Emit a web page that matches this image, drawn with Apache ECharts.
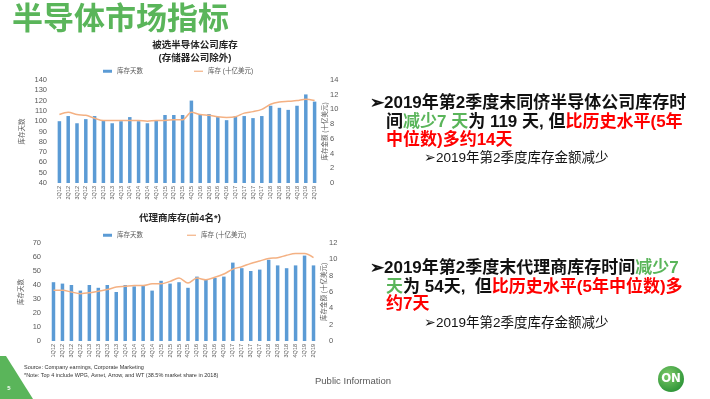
<!DOCTYPE html>
<html>
<head>
<meta charset="utf-8">
<script src="https://cdn.jsdelivr.net/npm/echarts@6/dist/echarts.min.js"></script>
<style>
  html, body { margin: 0; padding: 0; background: #fff; }
  #slide { width: 710px; height: 399px; }
</style>
</head>
<body>
<div id="slide"></div>
<script>
// 季度
var quarters = ['1Q12','2Q12','3Q12','4Q12','1Q13','2Q13','3Q13','4Q13','1Q14','2Q14','3Q14','4Q14',
    '1Q15','2Q15','3Q15','4Q15','1Q16','2Q16','3Q16','4Q16','1Q17','2Q17','3Q17','4Q17',
    '1Q18','2Q18','3Q18','4Q18','1Q19','2Q19'];

// 被选半导体公司库存
var semiDays = [100,105,98,102,105,101,98,100,104,100,98,101,106,106,106,120,107,107,104,101,105,105,103,105,115,113,111,115,126,119];
var semiValue = [9.3,9.6,9.3,9.2,8.8,8.5,8.5,8.5,8.5,8.5,8.4,8.5,8.5,8.6,8.6,9.6,9.3,9.2,9.0,8.9,9.0,9.5,9.7,10.0,10.7,11.0,11.1,11.2,11.4,11.2];

// 代理商库存(前4名)
var distDays = [42,41,40,36,40,38,40,35,40,39,40,36,43,41,42,38,46,44,45,46,56,52,50,51,58,54,52,54,61,54];
var distValue = [6.2,6.2,6.0,5.8,5.9,6.1,6.3,6.6,6.7,6.8,6.8,7.0,7.0,7.3,7.7,7.1,7.7,7.5,7.8,8.2,8.8,9.1,9.5,9.8,10.1,10.2,10.5,10.7,10.7,10.2];

var daysName = '库存天数';
var valueName = '库存 (十亿美元)';
var valueAxisName = '库存金额 (十亿美元)';

var FONT = '"Liberation Sans","Noto Sans CJK SC",sans-serif';
var BLUE = '#5B9BD5';
var ORANGE = '#F4B183';
var GREEN = '#5AB55A';

var chart = echarts.init(document.getElementById('slide'));

function xAx(gi) {
    return {
        type: 'category', gridIndex: gi, data: quarters,
        axisLine: {show: false}, axisTick: {show: false},
        axisLabel: {interval: 0, rotate: 90, fontSize: 5.5, color: '#595959', margin: 3, fontFamily: FONT}
    };
}
function yAx(gi, min, max, step, name, right, gap) {
    return {
        type: 'value', gridIndex: gi, min: min, max: max, interval: step,
        position: right ? 'right' : 'left',
        name: name, nameLocation: 'middle', nameRotate: 90,
        nameGap: gap, nameMoveOverlap: false,
        nameTextStyle: {fontSize: 6.5, color: '#595959', fontFamily: FONT},
        splitLine: {show: false}, axisLine: {show: false}, axisTick: {show: false},
        axisLabel: {fontSize: 7.5, color: '#595959', margin: right ? 11 : 8, fontFamily: FONT}
    };
}
function legendAt(left, top, name, h) {
    return {
        left: left, top: top, data: [{name: name, icon: 'rect'}],
        itemWidth: 9, itemHeight: h, itemGap: 4,
        textStyle: {fontSize: 6.5, color: '#595959', fontFamily: FONT}
    };
}
function bulletLine(x, y, parts, size, weight) {
    return {
        type: 'text', x: x, y: y,
        style: {
            text: parts, fill: '#000', verticalAlign: 'middle',
            font: weight + ' ' + size + 'px ' + FONT,
            rich: {
                k: {fill: '#111', fontSize: size, fontWeight: weight, fontFamily: FONT},
                g: {fill: GREEN, fontSize: size, fontWeight: weight, fontFamily: FONT},
                r: {fill: '#FF0000', fontSize: size, fontWeight: weight, fontFamily: FONT}
            }
        }
    };
}

option = {
    backgroundColor: '#fff',
    animation: false,
    title: [{
        text: '被选半导体公司库存\n(存储器公司除外)', left: 190, top: 34, textAlign: 'center',
        textStyle: {fontSize: 9.5, fontWeight: 'bold', color: '#262626', lineHeight: 13, fontFamily: FONT}
    }, {
        text: '代理商库存(前4名*)', left: 175, top: 209, textAlign: 'center',
        textStyle: {fontSize: 9.5, fontWeight: 'bold', color: '#262626', fontFamily: FONT}
    }],
    legend: [
        legendAt(98, 63, daysName, 3),
        legendAt(189, 63, valueName, 1.2),
        legendAt(98, 227, daysName, 3),
        legendAt(182, 227, valueName, 1.2)
    ],
    grid: [
        {left: 55, right: 391, top: 80, height: 103},
        {left: 49, right: 392, top: 243, height: 98}
    ],
    xAxis: [xAx(0), xAx(1)],
    yAxis: [
        yAx(0, 40, 140, 10, daysName, false, 30),
        yAx(0, 0, 14, 2, valueAxisName, true, 3),
        yAx(1, 0, 70, 10, daysName, false, 25),
        yAx(1, 0, 12, 2, valueAxisName, true, 3)
    ],
    series: [
        {name: daysName, type: 'bar', xAxisIndex: 0, yAxisIndex: 0, data: semiDays,
            barWidth: 3.5, itemStyle: {color: BLUE}},
        {name: valueName, type: 'line', xAxisIndex: 0, yAxisIndex: 1, data: semiValue, smooth: 0.3,
            showSymbol: false, lineStyle: {color: ORANGE, width: 1.5}, itemStyle: {color: ORANGE}},
        {name: daysName, type: 'bar', xAxisIndex: 1, yAxisIndex: 2, data: distDays,
            barWidth: 3.5, itemStyle: {color: BLUE}},
        {name: valueName, type: 'line', xAxisIndex: 1, yAxisIndex: 3, data: distValue, smooth: 0.3,
            showSymbol: false, lineStyle: {color: ORANGE, width: 1.5}, itemStyle: {color: ORANGE}}
    ],
    graphic: [
        // 标题
        {type: 'text', x: 12, y: 17, style: {text: '半导体市场指标', fill: GREEN, verticalAlign: 'middle',
            font: 'bold 31px "Noto Sans CJK SC",sans-serif'}},
        // 右侧文字
        bulletLine(370, 103, '{k|➢2019年第2季度末同侪半导体公司库存时}', 17, 'bold'),
        bulletLine(386, 122, '{k|间}{g|减少7 天}{k|为 119 天, 但}{r|比历史水平(5年}', 17, 'bold'),
        bulletLine(386, 140, '{r|中位数)多约14天}', 17, 'bold'),
        bulletLine(424, 158, '{k|➢2019年第2季度库存金额减少}', 13.5, 'normal'),
        bulletLine(370, 268, '{k|➢2019年第2季度末代理商库存时间}{g|减少7}', 17, 'bold'),
        bulletLine(386, 287, '{g|天}{k|为 54天,  但}{r|比历史水平(5年中位数)多}', 17, 'bold'),
        bulletLine(386, 304, '{r|约7天}', 17, 'bold'),
        bulletLine(424, 323, '{k|➢2019年第2季度库存金额减少}', 13.5, 'normal'),
        // 页脚
        {type: 'text', x: 24, y: 367, style: {text: 'Source: Company earnings, Corporate Marketing',
            fill: '#333', verticalAlign: 'middle', font: '5.5px ' + FONT}},
        {type: 'text', x: 24, y: 375, style: {text: '*Note: Top 4 include WPG, Avnet, Arrow, and WT (38.5% market share in 2018)',
            fill: '#333', verticalAlign: 'middle', font: '5.5px ' + FONT}},
        {type: 'text', x: 315, y: 381, style: {text: 'Public Information',
            fill: '#595959', verticalAlign: 'middle', font: '9.5px ' + FONT}},
        {type: 'polygon', shape: {points: [[0, 356], [6, 356], [33, 399], [0, 399]]}, style: {fill: '#5AB55A'}},
        {type: 'text', x: 9, y: 388, style: {text: '5', fill: '#fff', align: 'center', verticalAlign: 'middle',
            font: 'bold 6px ' + FONT}},
        {type: 'circle', shape: {cx: 671, cy: 379, r: 13},
            style: {fill: new echarts.graphic.RadialGradient(0.4, 0.35, 0.8, [
                {offset: 0, color: '#7FCB6A'}, {offset: 1, color: '#1E8A2E'}])}},
        {type: 'text', x: 671, y: 379, style: {text: 'ON', fill: '#fff', align: 'center', verticalAlign: 'middle',
            font: 'bold 13px "DejaVu Sans Condensed",sans-serif'}}
    ]
};
chart.setOption(option);
</script>
</body>
</html>
